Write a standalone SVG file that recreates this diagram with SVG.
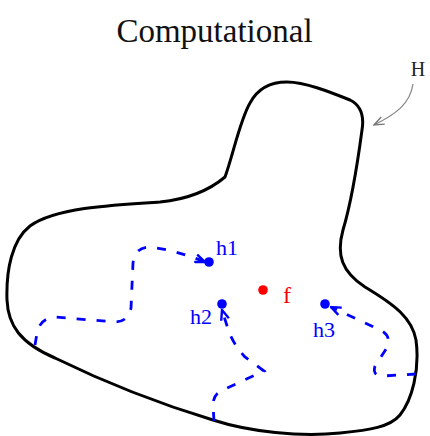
<svg xmlns="http://www.w3.org/2000/svg" width="430" height="436" viewBox="0 0 430 436">
<style>
  .serif { font-family: "Liberation Serif", "Times New Roman", serif; }
  .blob { fill: none; stroke: #000; stroke-width: 3; stroke-linejoin: round; }
  .walk { fill: none; stroke: #0000ff; stroke-width: 2.8; stroke-dasharray: 9 11; stroke-linecap: butt; }
  .lbl { font-family: "Liberation Serif", "Times New Roman", serif; font-size: 22px; fill: #0000ff; }
  .hdot { fill: #0000ff; }
</style>
<defs>
  <marker id="openArrow" viewBox="0 0 12 10" refX="11" refY="5" markerWidth="12" markerHeight="10" markerUnits="userSpaceOnUse" orient="auto">
    <path d="M1,1 L11,5 L1,9" fill="none" stroke="#0000ff" stroke-width="2.4"/>
  </marker>
  <marker id="greyArrow" viewBox="0 0 12 10" refX="11" refY="5" markerWidth="12" markerHeight="10" markerUnits="userSpaceOnUse" orient="auto">
    <path d="M1,1 L11,5 L1,9" fill="none" stroke="#777" stroke-width="1.4"/>
  </marker>
</defs>

<text id="title" class="serif" x="214.5" y="42" font-size="33" text-anchor="middle" fill="#111">Computational</text>

<g id="H">
  <path class="blob" d="M225,177 C233,155 240,120 250,103 C258,88 270,82 287,82 C305,82 330,92 350,100 C362,106 364,118 362,130 C358,160 352,200 343,230 C336,255 342,272 365,287 C395,305 412,318 416,340 C420,370 412,400 400,415 C390,427 370,430 340,433 C300,437 250,432 213,420 C160,404 100,380 55,358 C20,343 8,325 7,300 C6,270 12,240 30,226 C55,208 110,205 160,202 C190,199 212,188 225,177 Z"/>
  <text class="serif" x="418" y="76" font-size="20" text-anchor="middle" fill="#222">H</text>
</g>

<g id="connectors">
  <path d="M413,84 C410,104 396,114 374,125" fill="none" stroke="#888" stroke-width="1.3" marker-end="url(#greyArrow)"/>
  <path class="walk" d="M35,345 L37,333 Q40,318 55,317 L115,322 Q128,322 131,308 L133,263 Q135,247 150,247 Q175,250 205,262" marker-end="url(#openArrow)"/>
  <path class="walk" d="M214,421 L213,405 Q213,393 225,389 L264,371 L245,357 Q234,345 229,332 L222,310" marker-end="url(#openArrow)"/>
  <path class="walk" d="M416,374 L383,376 Q372,376 375,366 L388,346 Q391,334 378,329 L331,307" marker-end="url(#openArrow)"/>
</g>

<g id="h1">
  <circle class="hdot" cx="209" cy="262" r="4.8"/>
  <text class="lbl" x="216" y="255">h1</text>
</g>
<g id="h2">
  <circle class="hdot" cx="222" cy="304" r="4.8"/>
  <text class="lbl" x="212" y="324" text-anchor="end">h2</text>
</g>
<g id="h3">
  <circle class="hdot" cx="325" cy="304" r="4.8"/>
  <text class="lbl" x="324" y="337" text-anchor="middle">h3</text>
</g>
<g id="f">
  <circle cx="263" cy="290" r="4.8" fill="#ff0000"/>
  <text x="283" y="303" font-family="'Liberation Serif', 'Times New Roman', serif" font-size="24" fill="#ff0000">f</text>
</g>
</svg>
